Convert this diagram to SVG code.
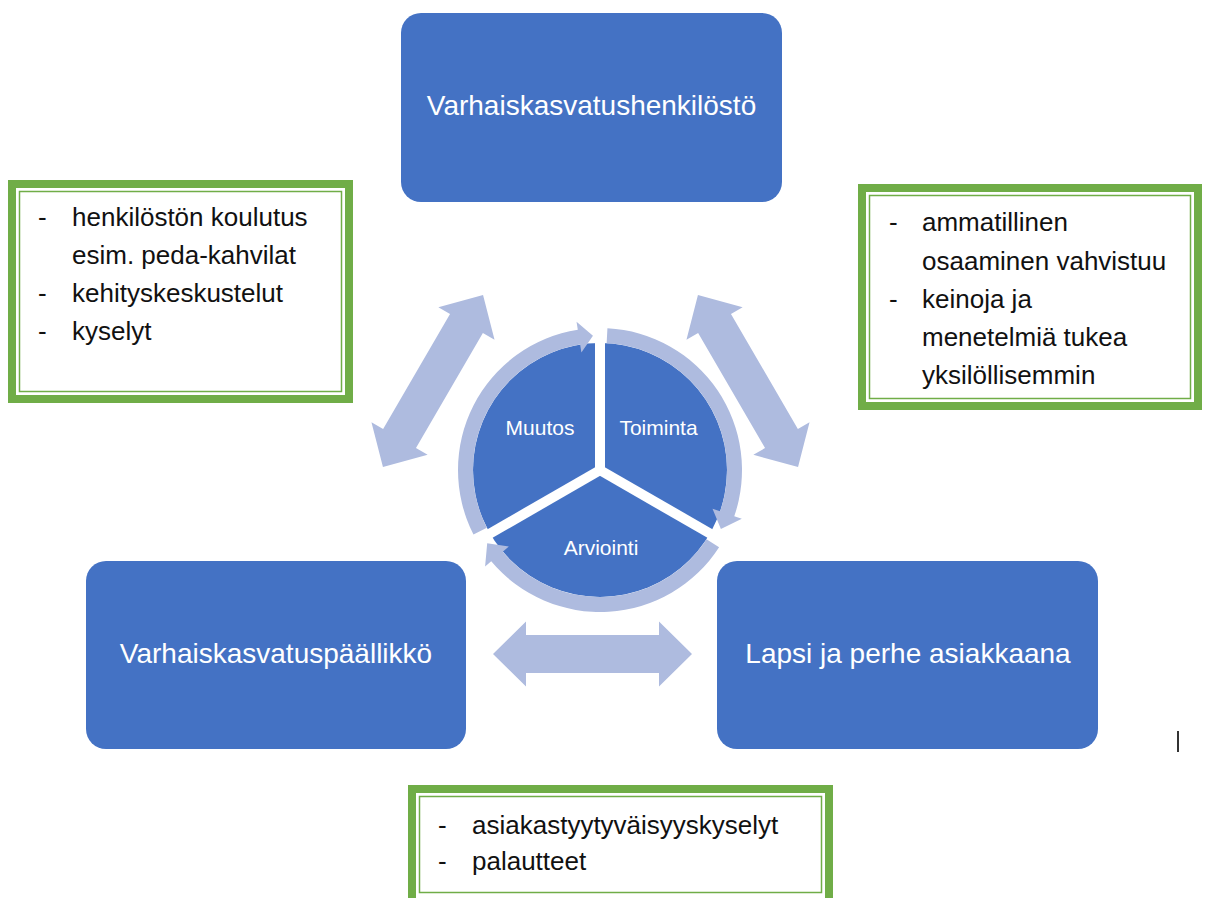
<svg xmlns="http://www.w3.org/2000/svg" width="1205" height="898" viewBox="0 0 1205 898">
<style>
.box{fill:#4472C4}
.boxt{font-family:"Liberation Sans",Arial,sans-serif;font-size:28px;fill:#fff;text-anchor:middle}
.seg{font-family:"Liberation Sans",Arial,sans-serif;font-size:21px;fill:#fff;text-anchor:middle}
.light{fill:#AEBBDF}
.gthick{fill:#fff;stroke:#70AD47;stroke-width:8}
.gthin{fill:none;stroke:#70AD47;stroke-width:1.5}
.note{font-family:"Liberation Sans",Arial,sans-serif;font-size:26px;fill:#111}
</style>
<defs>
<path id="dbl" d="M-99.5,0 L-66.5,-32.5 L-66.5,-19 L66.5,-19 L66.5,-32.5 L99.5,0 L66.5,32.5 L66.5,19 L-66.5,19 L-66.5,32.5 Z"/>
</defs>
<rect width="1205" height="898" fill="#fff"/>

<g id="connectors">
<use href="#dbl" class="light" transform="translate(433,381) rotate(-59.8)"/>
<use href="#dbl" class="light" transform="translate(748,381) rotate(59.8)"/>
<use href="#dbl" class="light" transform="translate(592.5,654)"/>
</g>

<g id="top-node">
<rect class="box" x="401" y="13" width="381" height="189" rx="20"/>
<text class="boxt" x="591.5" y="115">Varhaiskasvatushenkilöstö</text>
</g>
<g id="left-node">
<rect class="box" x="86" y="561" width="380" height="188" rx="20"/>
<text class="boxt" x="276" y="663">Varhaiskasvatuspäällikkö</text>
</g>
<g id="right-node">
<rect class="box" x="717" y="561" width="381" height="188" rx="20"/>
<text class="boxt" x="908" y="663">Lapsi ja perhe asiakkaana</text>
</g>

<g id="cycle">
<circle cx="600" cy="470" r="127" fill="#4472C4"/>
<g stroke="#fff" stroke-width="10" stroke-linecap="butt">
<line x1="600" y1="472" x2="600" y2="338"/>
<line x1="598" y1="469" x2="714.3" y2="536"/>
<line x1="602" y1="469" x2="485.7" y2="536"/>
</g>
<path class="light" d="M473.48,534.47 A142,142 0 0 1 577.79,329.75 L576.54,321.84 L592.96,335.68 L581.39,352.46 L580.14,344.56 A127,127 0 0 0 486.84,527.66 Z"/>
<path class="light" d="M607.43,328.2 A142,142 0 0 1 734.26,516.24 L741.83,518.84 L720.89,528.96 L712.51,508.75 L720.08,511.35 A127,127 0 0 0 606.64,343.18 Z"/>
<path class="light" d="M719.1,547.33 A142,142 0 0 1 491.22,561.28 L485.1,566.42 L487.2,543.25 L508.85,546.49 L502.72,551.64 A127,127 0 0 0 706.51,539.16 Z"/>
<text class="seg" x="540" y="434.5">Muutos</text>
<text class="seg" x="658.5" y="434.5">Toiminta</text>
<text class="seg" x="601" y="554.5">Arviointi</text>
</g>

<g id="note-left">
<rect class="gthick" x="12" y="184" width="337" height="215"/>
<rect class="gthin" x="19.5" y="191.5" width="322" height="200"/>
<text class="note" x="38" y="226">-</text><text class="note" x="72" y="226">henkilöstön koulutus</text>
<text class="note" x="72" y="264">esim. peda-kahvilat</text>
<text class="note" x="38" y="302">-</text><text class="note" x="72" y="302">kehityskeskustelut</text>
<text class="note" x="38" y="340">-</text><text class="note" x="72" y="340">kyselyt</text>
</g>

<g id="note-right">
<rect class="gthick" x="862" y="188" width="336" height="218"/>
<rect class="gthin" x="869.5" y="195.5" width="321" height="203"/>
<text class="note" x="889" y="231">-</text><text class="note" x="922" y="231">ammatillinen</text>
<text class="note" x="922" y="270">osaaminen vahvistuu</text>
<text class="note" x="889" y="308">-</text><text class="note" x="922" y="308">keinoja ja</text>
<text class="note" x="922" y="346">menetelmiä tukea</text>
<text class="note" x="922" y="384">yksilöllisemmin</text>
</g>

<g id="note-bottom">
<rect class="gthick" x="412" y="789" width="417" height="125"/>
<rect class="gthin" x="419.5" y="796.5" width="402" height="96"/>
<text class="note" x="438" y="834">-</text><text class="note" x="472" y="834">asiakastyytyväisyyskyselyt</text>
<text class="note" x="438" y="870">-</text><text class="note" x="472" y="870">palautteet</text>
</g>

<line x1="1178" y1="731" x2="1178" y2="752" stroke="#333" stroke-width="2"/>
</svg>
